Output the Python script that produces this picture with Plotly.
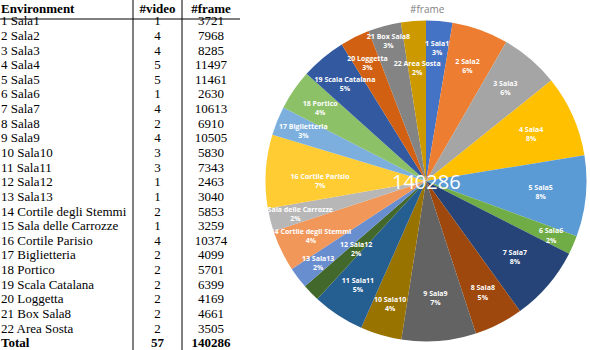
import plotly.graph_objects as go

environments = ["1 Sala1", "2 Sala2", "3 Sala3", "4 Sala4", "5 Sala5", "6 Sala6",
                "7 Sala7", "8 Sala8", "9 Sala9", "10 Sala10", "11 Sala11", "12 Sala12",
                "13 Sala13", "14 Cortile degli Stemmi", "15 Sala delle Carrozze",
                "16 Cortile Parisio", "17 Biglietteria", "18 Portico", "19 Scala Catalana",
                "20 Loggetta", "21 Box Sala8", "22 Area Sosta"]
videos = [1, 4, 4, 5, 5, 1, 4, 2, 4, 3, 3, 1, 1, 2, 1, 4, 2, 2, 2, 2, 2, 2]
frames = [3721, 7968, 8285, 11497, 11461, 2630, 10613, 6910, 10505, 5830, 7343, 2463,
          3040, 5853, 3259, 10374, 4099, 5701, 6399, 4169, 4661, 3505]
total_videos = 57
total_frames = 140286
headers = ["Environment", "#video", "#frame"]

colors = ["#4472C4", "#ED7D31", "#A5A5A5", "#FFC000", "#5B9BD5", "#70AD47",
          "#264478", "#9E480E", "#636363", "#997300", "#255E91", "#43682B",
          "#698ED0", "#F1975A", "#B7B7B7", "#FFCD33", "#7CAFDD", "#8CC168",
          "#335AA1", "#D26012", "#848484", "#CC9A00"]

W, H = 590, 350
TW = 240          # table width in px
ROW = 14.64       # row pitch in px
FIRST = 22        # pixel y of first data row

# pie geometry (px) and label placement (fraction of radius of the label layer)
CX, CY, R = 426, 181, 160.5
DEFAULT_LABEL_FRAC = 0.9
LABEL_FRAC = {"12 Sala12": 0.64, "22 Area Sosta": 0.76, "21 Box Sala8": 1.0}

col1 = environments + ["<b>Total</b>"]
col2 = [str(v) for v in videos] + [f"<b>{total_videos}</b>"]
col3 = [str(f) for f in frames] + [f"<b>{total_frames}</b>"]
rows = list(range(1, len(col1) + 1))

def pix_to_row(p):
    return 1 + (p - FIRST) / ROW

def dom(r):
    return dict(x=[(CX - r) / W, (CX + r) / W], y=[1 - (CY + r) / H, 1 - (CY - r) / H])

def label_text(name, value):
    pct = round(100 * value / sum(frames))
    return f"<b>{name}</b><br><b>{pct}%</b>"

tfont = dict(family="Liberation Serif", size=13, color="black")

fig = go.Figure()

# table body as text traces
colx = [1, 157.5, 211]
for cx, vals, pos in zip(colx, [col1, col2, col3], ["middle right", "middle center", "middle center"]):
    fig.add_trace(go.Scatter(x=[cx] * len(vals), y=rows, text=vals, mode="text",
                             textposition=pos, textfont=tfont, showlegend=False,
                             hoverinfo="skip", xaxis="x", yaxis="y"))
# header
fig.add_trace(go.Scatter(x=colx, y=[pix_to_row(9.5)] * 3,
                         text=[f"<b>{h}</b>" for h in headers], mode="text",
                         textposition=["middle right", "middle center", "middle center"],
                         textfont=tfont, showlegend=False, hoverinfo="skip",
                         xaxis="x", yaxis="y"))

# coloured pie
fig.add_trace(go.Pie(
    labels=environments,
    values=frames,
    sort=False,
    direction="clockwise",
    rotation=0,
    marker=dict(colors=colors, line=dict(width=0)),
    textinfo="none",
    domain=dom(R),
    showlegend=False,
    hoverinfo="label+value+percent",
))
# transparent pies carrying the data labels
fracs = sorted(set([DEFAULT_LABEL_FRAC] + list(LABEL_FRAC.values())))
for frac in fracs:
    txt = [label_text(n, v) if LABEL_FRAC.get(n, DEFAULT_LABEL_FRAC) == frac else ""
           for n, v in zip(environments, frames)]
    fig.add_trace(go.Pie(
        labels=environments,
        values=frames,
        text=txt,
        textinfo="text",
        sort=False,
        direction="clockwise",
        rotation=0,
        marker=dict(colors=["rgba(0,0,0,0)"] * len(frames), line=dict(width=0)),
        textposition="inside",
        insidetextorientation="horizontal",
        insidetextfont=dict(family="Open Sans", size=7, color="white"),
        domain=dom(frac * R),
        showlegend=False,
        hoverinfo="skip",
    ))

# table rules
fig.add_shape(type="line", xref="x", yref="y",
              x0=0, x1=TW, y0=pix_to_row(19), y1=pix_to_row(19),
              line=dict(color="black", width=1))
for xv in [133, 182]:
    fig.add_shape(type="line", xref="x", yref="y",
                  x0=xv, x1=xv, y0=pix_to_row(0), y1=pix_to_row(H),
                  line=dict(color="black", width=1))

fig.add_annotation(text="#frame", x=427 / W, y=1 - 9 / H, xref="paper", yref="paper",
                   xanchor="center", yanchor="middle", showarrow=False,
                   font=dict(family="Open Sans", size=10, color="#7F7F7F"))
fig.add_annotation(text=str(total_frames), x=CX / W, y=1 - CY / H, xref="paper", yref="paper",
                   xanchor="center", yanchor="middle", showarrow=False,
                   font=dict(family="Open Sans", size=20, color="white"))

fig.update_layout(
    width=W, height=H,
    margin=dict(l=0, r=0, t=0, b=0),
    paper_bgcolor="white",
    plot_bgcolor="white",
    uniformtext=dict(minsize=7, mode="show"),
    xaxis=dict(domain=[0, TW / W], range=[0, TW], visible=False, fixedrange=True),
    yaxis=dict(domain=[0, 1], range=[pix_to_row(H), pix_to_row(0)], visible=False,
               fixedrange=True),
)

fig.write_html("out.html", config={"displayModeBar": False},
               post_script="document.body.style.margin='0';")
